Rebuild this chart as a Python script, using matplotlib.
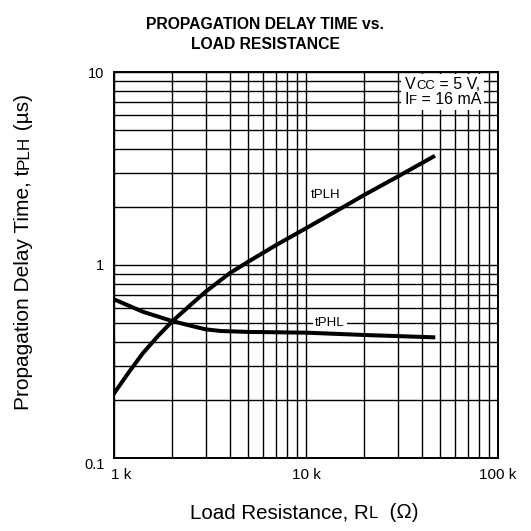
import matplotlib.pyplot as plt
from matplotlib.offsetbox import TextArea, HPacker, VPacker, AnnotationBbox

plt.rcParams['font.family'] = ['Liberation Sans', 'DejaVu Sans']

# load resistance (ohm) and propagation delay (us)
rl_plh = [1000, 1200, 1410, 1700, 2000, 2500, 3000, 4000, 5000, 7000, 10000, 15000, 20000, 30000, 46000]
t_plh = [0.216, 0.28, 0.348, 0.43, 0.508, 0.62, 0.727, 0.906, 1.04, 1.27, 1.55, 1.95, 2.3, 2.87, 3.64]
rl_phl = [1000, 1410, 2000, 2500, 3000, 3600, 5000, 10000, 20000, 46000]
t_phl = [0.664, 0.573, 0.513, 0.485, 0.464, 0.455, 0.45, 0.446, 0.434, 0.422]

x_ticks = [1000, 10000, 100000]
x_labels = ["1 k", "10 k", "100 k"]
y_ticks = [0.1, 1, 10]
y_labels = ["0.1", "1", "10"]

SMALL = 0.82  # size of the small letters in VCC, IF, RL, tPLH


# text with smaller letters sitting on the same baseline
def mixed_text(parts, size):
    boxes = [TextArea(s, textprops=dict(fontsize=size * (SMALL if small else 1.0)))
             for s, small in parts]
    return HPacker(children=boxes, align="baseline", pad=0, sep=0)


fig = plt.figure(figsize=(5.31, 5.31), dpi=100)
ax = fig.add_axes([0.2147, 0.1375, 0.7232, 0.7269])

ax.plot(rl_plh, t_plh, color='black', lw=2.9, zorder=3, solid_joinstyle='round')
ax.plot(rl_phl, t_phl, color='black', lw=2.9, zorder=3, solid_joinstyle='round')

ax.set_xscale('log')
ax.set_yscale('log')
ax.set_xlim(1000, 100000)
ax.set_ylim(0.1, 10)
ax.grid(True, which='both', color='black', lw=1.0)
ax.tick_params(which='both', length=0)
for s in ax.spines.values():
    s.set_linewidth(1.4)

ax.set_xticks(x_ticks)
ax.set_xticklabels([])
ax.set_yticks(y_ticks)
ax.set_yticklabels(y_labels, fontsize=10.5)
ax.tick_params(axis='y', pad=7)
ax.get_yticklabels()[0].set_va('top')
for i, (v, lab) in enumerate(zip(x_ticks, x_labels)):
    ax.annotate(lab, (v, 0.1), xytext=(5 if i == 0 else 0, -7),
                textcoords='offset points', ha='center', va='top', fontsize=11)

ax.text(1.27e4, 2.31, "tPLH", fontsize=9.5, ha='center', va='center',
        bbox=dict(fc='white', ec='none', pad=1.5), zorder=4)
ax.text(1.33e4, 0.50, "tPHL", fontsize=9.5, ha='center', va='center',
        bbox=dict(fc='white', ec='none', pad=1.5), zorder=4)

cond = VPacker(children=[mixed_text([("V", False), ("CC", True), (" = 5 V,", False)], 11.5),
                         mixed_text([("I", False), ("F", True), (" = 16 mA", False)], 11.5)],
               align="center", pad=0, sep=0)
ab = AnnotationBbox(cond, (481, 454), xycoords='figure pixels', box_alignment=(1, 1),
                    frameon=True, pad=0.2, bboxprops=dict(fc='white', ec='none'), zorder=5)
fig.add_artist(ab)

xlab = mixed_text([("Load Resistance, R", False), ("L", True), ("  (Ω)", False)], 14.8)
fig.add_artist(AnnotationBbox(xlab, (304, 18), xycoords='figure pixels',
                              box_alignment=(0.5, 0.5), frameon=False))

# y label: rotated pieces laid end to end on one baseline
ylab_parts = [("Propagation Delay Time, t", 15), ("PLH", 15 * SMALL), (" (µs)", 15)]
renderer = fig.canvas.get_renderer()
pieces = [fig.text(0, 0, s, fontsize=fs, rotation=90, rotation_mode='anchor',
                   ha='left', va='baseline', transform=None) for s, fs in ylab_parts]
lengths = [p.get_window_extent(renderer).height for p in pieces]
y0 = 279 - sum(lengths) / 2
for p, h in zip(pieces, lengths):
    p.set_position((29, y0))
    y0 += h

fig.text(0.5, 0.968, "PROPAGATION DELAY TIME vs.\nLOAD RESISTANCE", fontsize=11.3,
         fontweight='bold', ha='center', va='top', linespacing=1.4)

fig.savefig("out.png", dpi=100)
